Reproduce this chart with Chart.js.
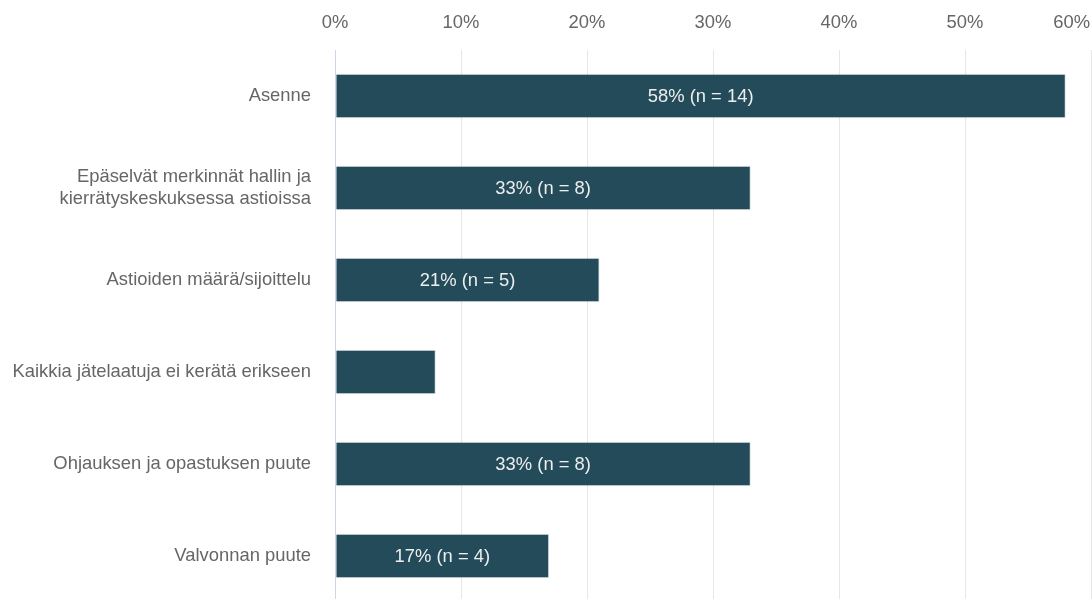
<!DOCTYPE html>
<html lang="fi">
<head>
<meta charset="utf-8">
<title>Syyt lajitteluvirheisiin</title>
<script src="https://cdn.jsdelivr.net/npm/chart.js@4.4.1/dist/chart.umd.min.js"></script>
<style>
  html, body { margin: 0; padding: 0; background: #ffffff; overflow: hidden; }
  canvas { display: block; }
</style>
</head>
<body>
<canvas id="chart" width="1092" height="602"></canvas>
<script>
// Vastausten syyt (osuus vastaajista, %)
const categories = [
  'Asenne',
  ['Epäselvät merkinnät hallin ja', 'kierrätyskeskuksessa astioissa'],
  'Astioiden määrä/sijoittelu',
  'Kaikkia jätelaatuja ei kerätä erikseen',
  'Ohjauksen ja opastuksen puute',
  'Valvonnan puute'
];
const shares = [58, 33, 21, 8, 33, 17];
const counts = [14, 8, 5, null, 8, 4];
const tickValues = [0, 10, 20, 30, 40, 50, 60];

const FONT = '"Liberation Sans", Arial, sans-serif';
const TEXT = '#666666';
const SIZE = 18.4;

// Osuuden ja lukumäärän tekstit palkkien keskelle
const barLabels = {
  id: 'barLabels',
  afterDatasetsDraw(chart) {
    const { ctx } = chart;
    const meta = chart.getDatasetMeta(0);
    ctx.save();
    ctx.font = SIZE + 'px ' + FONT;
    ctx.fillStyle = '#eeeeee';
    ctx.textAlign = 'center';
    ctx.textBaseline = 'middle';
    meta.data.forEach((bar, i) => {
      if (counts[i] == null) return;
      const x = (bar.base + bar.x) / 2;
      ctx.fillText(shares[i] + '% (n = ' + counts[i] + ')', x, bar.y + 1);
    });
    ctx.restore();
  }
};

// Ylä-akselin prosenttiluvut; viimeinen siirretään mahtumaan kuvaan
const topTicks = {
  id: 'topTicks',
  afterDraw(chart) {
    const { ctx } = chart;
    const xs = chart.scales.x;
    ctx.save();
    ctx.font = SIZE + 'px ' + FONT;
    ctx.fillStyle = TEXT;
    ctx.textBaseline = 'middle';
    ctx.textAlign = 'left';
    tickValues.forEach(v => {
      const label = v + '%';
      const w = ctx.measureText(label).width;
      let x = xs.getPixelForValue(v) - w / 2;
      if (x + w > chart.width - 2) x = chart.width - 2 - w;
      ctx.fillText(label, x, 23);
    });
    ctx.restore();
  }
};

new Chart(document.getElementById('chart'), {
  type: 'bar',
  data: {
    labels: categories,
    datasets: [{
      data: shares,
      backgroundColor: '#234b59',
      borderColor: 'rgba(200,210,215,0.55)',
      borderWidth: 1,
      borderSkipped: false,
      barPercentage: 0.485,
      categoryPercentage: 1.0
    }]
  },
  options: {
    indexAxis: 'y',
    responsive: false,
    animation: false,
    layout: { padding: { left: 0, right: 1, top: 0, bottom: 0 }, autoPadding: false },
    plugins: {
      legend: { display: false },
      tooltip: { enabled: false }
    },
    scales: {
      x: {
        position: 'top',
        min: 0,
        max: 60,
        afterBuildTicks(scale) {
          scale.ticks = tickValues.map(v => ({ value: v }));
        },
        afterFit(scale) {
          scale.height = 50;
          scale.paddingLeft = 0;
          scale.paddingRight = 0;
        },
        ticks: { display: false },
        grid: {
          drawTicks: false,
          lineWidth: 1,
          color: ctx => (ctx.tick && ctx.tick.value === 0) ? '#ccd6eb' : '#e6e6e6'
        },
        border: { display: false }
      },
      y: {
        afterFit(scale) {
          scale.width = 335;
          scale.paddingTop = 0;
          scale.paddingBottom = 0;
        },
        ticks: {
          padding: 24,
          color: TEXT,
          font: { family: FONT, size: SIZE, lineHeight: 1.15 }
        },
        grid: { display: false, drawTicks: false },
        border: { display: false }
      }
    }
  },
  plugins: [barLabels, topTicks]
});
</script>
</body>
</html>
